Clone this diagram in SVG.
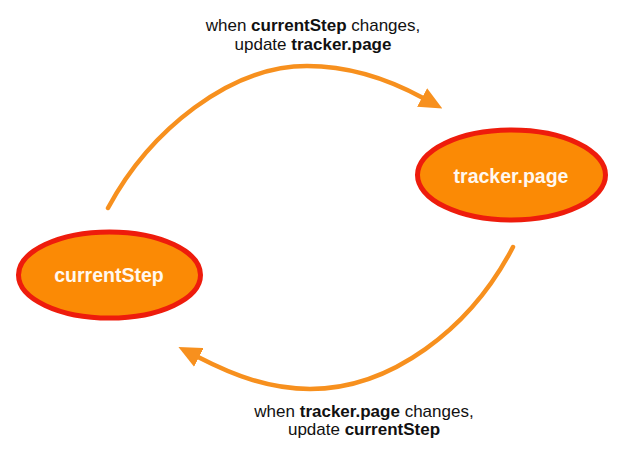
<svg xmlns="http://www.w3.org/2000/svg" width="625" height="455" viewBox="0 0 625 455">
<style>
.node{fill:#FB8A05;stroke:#EE1C0C;stroke-width:5}
.nlabel{font-family:"Liberation Sans",Arial,sans-serif;font-weight:bold;font-size:19.5px;fill:#FFF8F0;text-anchor:middle}
.edge{fill:none;stroke:#F7901E;stroke-width:4.5;stroke-linecap:round}
.elabel{font-family:"Liberation Sans",Arial,sans-serif;font-size:17px;fill:#111111;text-anchor:middle}
.b{font-weight:bold}
</style>
<defs>
<marker id="arrow" viewBox="0 0 23 21" refX="1" refY="10.5" markerWidth="23" markerHeight="21" markerUnits="userSpaceOnUse" orient="auto">
<path d="M0,0 L23,10.5 L0,21 z" fill="#F7901E"/>
</marker>
</defs>
<rect width="625" height="455" fill="#FFFFFF"/>
<g id="connectors">
<path class="edge" d="M108,208 C150,130 230,66 307,66 C350,66 390,80 423,98" marker-end="url(#arrow)"/>
<path class="edge" d="M513,247 C470,330 390,389 310,389 C270,389 235,376 198,357" marker-end="url(#arrow)"/>
</g>
<g id="label-top">
<text class="elabel" x="313" y="31">when <tspan class="b">currentStep</tspan> changes,</text>
<text class="elabel" x="313" y="50">update <tspan class="b">tracker.page</tspan></text>
</g>
<g id="label-bottom">
<text class="elabel" x="364" y="417">when <tspan class="b">tracker.page</tspan> changes,</text>
<text class="elabel" x="364" y="435">update <tspan class="b">currentStep</tspan></text>
</g>
<g id="node-currentStep">
<ellipse class="node" cx="109.5" cy="275" rx="91" ry="43"/>
<text class="nlabel" x="109" y="282">currentStep</text>
</g>
<g id="node-trackerPage">
<ellipse class="node" cx="511.5" cy="175" rx="94" ry="45"/>
<text class="nlabel" x="511" y="183">tracker.page</text>
</g>
</svg>
